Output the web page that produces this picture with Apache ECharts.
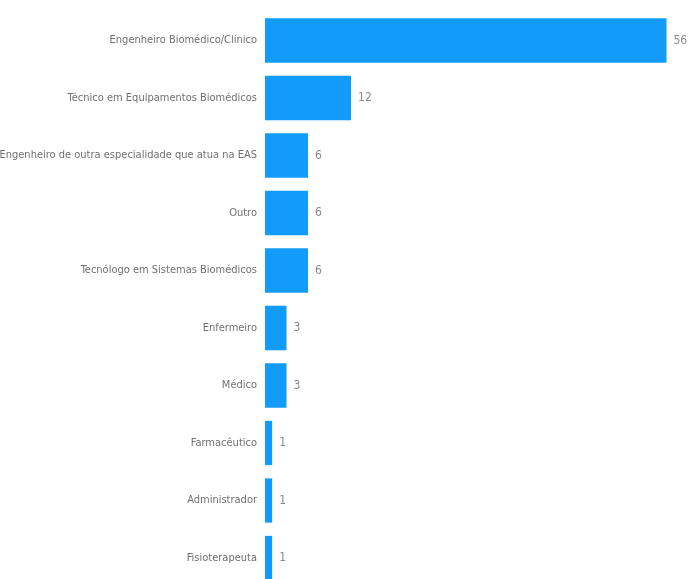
<!DOCTYPE html>
<html>
<head>
<meta charset="utf-8">
<script src="https://cdn.jsdelivr.net/npm/echarts@6/dist/echarts.min.js"></script>
<style>
html,body{margin:0;padding:0;background:#fff;}
#chart{width:691px;height:579px;}
</style>
</head>
<body>
<div id="chart"></div>
<script>
const categories = [
  "Engenheiro Biomédico/Clínico",
  "Técnico em Equipamentos Biomédicos",
  "Engenheiro de outra especialidade que atua na EAS",
  "Outro",
  "Tecnólogo em Sistemas Biomédicos",
  "Enfermeiro",
  "Médico",
  "Farmacêutico",
  "Administrador",
  "Fisioterapeuta"
];
const values = [56, 12, 6, 6, 6, 3, 3, 1, 1, 1];

const FONT = "'Liberation Sans Narrow', 'DejaVu Sans Condensed', 'Roboto', sans-serif";
const chart = echarts.init(document.getElementById('chart'));
chart.setOption({
  animation: false,
  grid: { left: 265, right: 24.5, top: 11.75, height: 575, containLabel: false, outerBoundsMode: 'none' },
  xAxis: {
    type: 'value', min: 0, max: 56,
    show: false
  },
  yAxis: {
    type: 'category',
    data: categories,
    inverse: true,
    axisLine: { show: false },
    axisTick: { show: false },
    axisLabel: { color: '#707070', fontSize: 11, fontFamily: FONT, margin: 8 }
  },
  series: [{
    type: 'bar',
    data: values,
    barWidth: '77%',
    itemStyle: { color: '#139bfa' },
    label: {
      show: true, position: 'right', distance: 7,
      color: '#8a8a8a', fontSize: 12, fontFamily: FONT
    }
  }]
});
</script>
</body>
</html>
